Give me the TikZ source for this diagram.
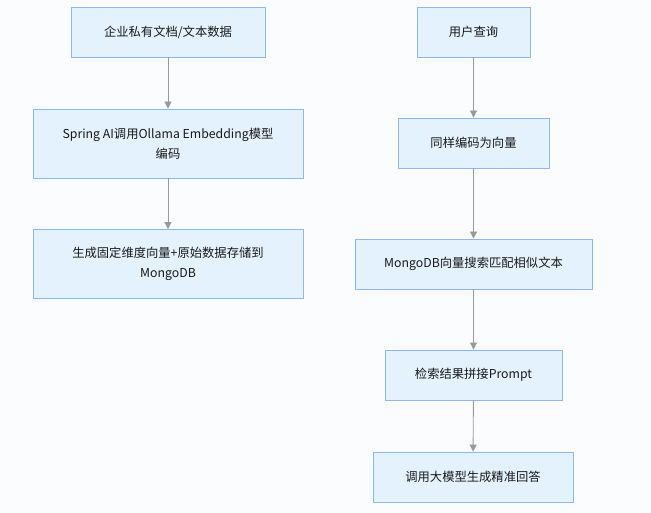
\documentclass[tikz,border=0pt]{standalone}
\usepackage{fontspec}
\setmainfont{Noto Sans CJK SC}
\usetikzlibrary{arrows.meta}
\definecolor{bgc}{HTML}{FAFCFE}
\definecolor{boxfill}{HTML}{E4F2FD}
\definecolor{boxdraw}{HTML}{8FB8EA}
\definecolor{arr}{HTML}{9A9A9A}
\tikzset{
  stepbox/.style={draw=boxdraw, fill=boxfill, line width=0.9pt, inner sep=0pt, align=center,
    font=\fontsize{12.3}{20}\selectfont, text=black!90},
  flow/.style={draw=arr, line width=0.9pt, -{Triangle[width=7pt,length=7pt]}, arr}
}
\begin{document}
\begin{tikzpicture}[x=1pt,y=-1pt]
\fill[bgc] (0,0) rectangle (651,513);
\useasboundingbox (0,0) rectangle (651,513);
% left column
\node[stepbox, minimum width=194pt, minimum height=50pt] (a1) at (168,32) {企业私有文档/文本数据};
\node[stepbox, minimum width=270pt, minimum height=69pt] (a2) at (168,143.5) {Spring AI调用Ollama Embedding模型\\编码};
\node[stepbox, minimum width=270pt, minimum height=69pt] (a3) at (168,264) {生成固定维度向量+原始数据存储到\\MongoDB};
% right column
\node[stepbox, minimum width=113pt, minimum height=50pt] (b1) at (473.5,32) {用户查询};
\node[stepbox, minimum width=151pt, minimum height=50pt] (b2) at (473.5,143) {同样编码为向量};
\node[stepbox, minimum width=237pt, minimum height=50pt] (b3) at (473.5,264) {MongoDB向量搜索匹配相似文本};
\node[stepbox, minimum width=177pt, minimum height=50pt] (b4) at (473.5,375) {检索结果拼接Prompt};
\node[stepbox, minimum width=200pt, minimum height=50pt] (b5) at (473,477) {调用大模型生成精准回答};
% connectors
\draw[flow] (a1) -- (a2);
\draw[flow] (a2) -- (a3);
\draw[flow] (b1) -- (b2);
\draw[flow] (b2) -- (b3);
\draw[flow] (b3) -- (b4);
\draw[flow] (b4) -- (b5);
\end{tikzpicture}
\end{document}
